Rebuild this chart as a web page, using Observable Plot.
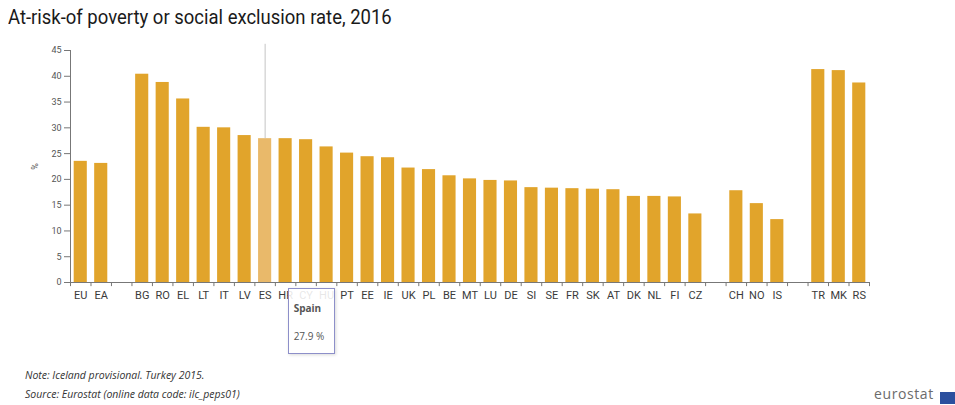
<!DOCTYPE html>
<html>
<head>
<meta charset="utf-8">
<script src="https://cdn.jsdelivr.net/npm/d3@7"></script>
<script src="https://cdn.jsdelivr.net/npm/@observablehq/plot@0.6"></script>
<style>
  html, body { margin: 0; padding: 0; background: #fff; }
  body { width: 955px; height: 405px; position: relative; overflow: hidden; font-family: Roboto, "Open Sans", sans-serif; }
  #title { position: absolute; left: 8px; top: 5px; font-family: Roboto, sans-serif; font-size: 21px; color: #1a1a1a; white-space: nowrap; transform: scaleX(0.88); transform-origin: left top; }
  #chart { position: absolute; left: 0; top: 40px; }
  .note { position: absolute; left: 25px; font-family: "Open Sans", sans-serif; font-style: italic; font-size: 10.5px; color: #333; white-space: nowrap; }
  #tip { position: absolute; width: 45px; height: 64px; border: 1px solid #8d8fc9; background: rgba(255,255,255,0.88); box-shadow: 1px 1px 3px rgba(0,0,0,0.15); font-family: "Open Sans", sans-serif; font-size: 10px; color: #555; }
  #tip .n { position: absolute; left: 5px; top: 12px; font-weight: bold; }
  #tip .v { position: absolute; left: 5px; top: 40px; }
  #logo { position: absolute; left: 874px; top: 386px; font-family: "Open Sans", sans-serif; font-size: 14px; line-height: 16px; color: #6b6b6b; letter-spacing: 0.6px; }
  #flag { position: absolute; left: 940px; top: 392px; width: 15px; height: 12px; background: #2b4f9e; }
</style>
</head>
<body>
<div id="title">At-risk-of poverty or social exclusion rate, 2016</div>
<div id="chart"></div>
<div class="note" style="top:368px">Note: Iceland provisional. Turkey 2015.</div>
<div class="note" style="top:387px">Source: Eurostat (online data code: ilc_peps01)</div>
<div id="logo">eurostat</div>
<div id="flag"></div>
<script>
// Slots along the x axis (gap slots separate groups)
const codes = ["EU","EA","gap1","BG","RO","EL","LT","IT","LV","ES","HR","CY","HU","PT","EE","IE","UK","PL","BE","MT","LU","DE","SI","SE","FR","SK","AT","DK","NL","FI","CZ","gap2","CH","NO","IS","gap3","TR","MK","RS"];
const values = [23.5,23.1,null,40.4,38.8,35.6,30.1,30.0,28.5,27.9,27.9,27.7,26.3,25.1,24.4,24.2,22.2,21.9,20.7,20.1,19.8,19.7,18.4,18.3,18.2,18.1,18.0,16.7,16.7,16.6,13.3,null,17.8,15.3,12.2,null,41.3,41.1,38.7];
const yTicks = [0,5,10,15,20,25,30,35,40,45];
const hoverCode = "ES";
const hoverName = "Spain";

const data = codes.map((c, i) => ({code: c, value: values[i]}));
const bars = data.filter(d => d.value != null);
const hover = bars.find(d => d.code === hoverCode);

const W = 955, H = 270, mL = 70, mR = 86, mT = 10, mB = 28;
const step = (W - mL - mR) / codes.length;
const barColor = "#e1a42b";
const hoverColor = "#e9b96a";

const plot = Plot.plot({
  width: W, height: H,
  marginLeft: mL, marginRight: mR, marginTop: mT, marginBottom: mB,
  style: {fontFamily: "Roboto, sans-serif", background: "transparent"},
  x: {domain: codes, paddingInner: 0.36, paddingOuter: 0.18, round: false, label: null},
  y: {domain: [0, 45], label: null},
  marks: [
    Plot.barY(bars, {x: "code", y: "value", fill: d => d.code === hoverCode ? hoverColor : barColor}),
    Plot.ruleX([hover], {x: "code", y1: "value", y2: 46.2, stroke: "#c4c4c4", strokeWidth: 1}),
    Plot.ruleY([0], {stroke: "#777", strokeWidth: 1}),
    Plot.ruleX([codes[0]], {x: d => d, y1: 0, y2: 45, dx: -step / 2, stroke: "#777"}),
    Plot.ruleX(codes, {x: d => d, y1: 0, y2: -0.8, dx: -step / 2, stroke: "#777"}),
    Plot.ruleX([codes[codes.length - 1]], {x: d => d, y1: 0, y2: -0.8, dx: step / 2, stroke: "#777"}),
    Plot.axisY({ticks: yTicks, tickSize: 6, tickPadding: 3, fontSize: 9, color: "#555", stroke: "#777",
      label: "%", labelAnchor: "center", labelArrow: "none", labelOffset: 39}),
    Plot.axisX({tickSize: 0, tickPadding: 9, fontSize: 11, color: "#3a3a3a",
      tickFormat: d => d.startsWith("gap") ? "" : d})
  ]
});
document.getElementById("chart").appendChild(plot);

// Tooltip for the hovered bar
const xs = plot.scale("x");
const tip = document.createElement("div");
tip.id = "tip";
tip.style.left = (xs.apply(hoverCode) + xs.bandwidth / 2 + 23) + "px";
tip.style.top = "288px";
tip.innerHTML = `<span class="n">${hoverName}</span><span class="v">${hover.value} %</span>`;
document.body.appendChild(tip);
</script>
</body>
</html>
